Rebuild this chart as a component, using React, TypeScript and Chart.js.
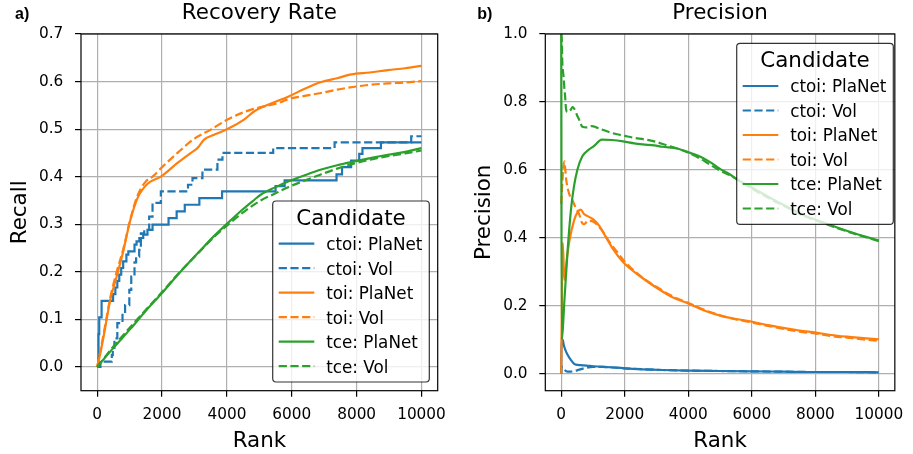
import React, { useEffect, useRef } from "react";
import { Chart, registerables } from "chart.js";

Chart.register(...registerables);

const FONT = "'DejaVu Sans', 'Noto Sans', sans-serif";
const BLUE = "#1f77b4";
const ORANGE = "#ff7f0e";
const GREEN = "#2ca02c";

// ---------- tick labels ----------
const rankTicks = [0, 2000, 4000, 6000, 8000, 10000];
const recallTicks = [0, 0.1, 0.2, 0.3, 0.4, 0.5, 0.6, 0.7];
const precisionTicks = [0, 0.2, 0.4, 0.6, 0.8, 1.0];

// ---------- series ----------
const seriesLabels = ["ctoi: PlaNet", "ctoi: Vol", "toi: PlaNet", "toi: Vol", "tce: PlaNet", "tce: Vol"];
const seriesColors = [BLUE, BLUE, ORANGE, ORANGE, GREEN, GREEN];
const seriesDashed = [false, true, false, true, false, true];

// Recall vs rank  [rank, recall]
const recallCtoiPlanet: [number, number][] = [
  [0, 0], [40, 0.069], [62, 0.104], [135, 0.139], [490, 0.153], [560, 0.167], [620, 0.181],
  [680, 0.194], [740, 0.208], [800, 0.222], [900, 0.236], [960, 0.243], [1150, 0.257],
  [1213, 0.264], [1300, 0.271], [1418, 0.278], [1550, 0.288], [1706, 0.299], [2200, 0.313],
  [2450, 0.327], [2700, 0.341], [3150, 0.355], [3850, 0.369], [5500, 0.38], [5780, 0.392],
  [7380, 0.405], [7550, 0.42], [7830, 0.434], [8080, 0.448], [8180, 0.46], [8750, 0.472],
  [10000, 0.472],
];
const recallCtoiVol: [number, number][] = [
  [0, 0], [100, 0.011], [450, 0.025], [480, 0.04], [530, 0.06], [620, 0.092], [780, 0.113],
  [860, 0.13], [990, 0.162], [1050, 0.19], [1150, 0.22], [1200, 0.232], [1294, 0.246],
  [1346, 0.281], [1450, 0.288], [1602, 0.316], [1706, 0.345], [1962, 0.369], [2800, 0.383],
  [2938, 0.397], [3245, 0.415], [3707, 0.436], [3862, 0.45], [5427, 0.46], [7320, 0.472],
  [9683, 0.485], [10000, 0.485],
];
const recallToiPlanet: [number, number][] = [
  [0, 0], [100, 0.03], [200, 0.065], [400, 0.14], [600, 0.19], [813, 0.246], [1000, 0.303],
  [1243, 0.355], [1551, 0.385], [1962, 0.40], [2476, 0.429], [2886, 0.45], [3091, 0.46],
  [3296, 0.478], [3600, 0.488], [4016, 0.50], [4528, 0.52], [4857, 0.538], [5400, 0.555],
  [5888, 0.568], [6400, 0.585], [6911, 0.599], [7400, 0.607], [7835, 0.615], [8400, 0.619],
  [8963, 0.624], [9500, 0.628], [10000, 0.633],
];
const recallToiVol: [number, number][] = [
  [0, 0], [100, 0.035], [200, 0.07], [400, 0.145], [600, 0.2], [813, 0.25], [1000, 0.305],
  [1243, 0.36], [1500, 0.39], [1706, 0.40], [2000, 0.42], [2476, 0.45], [3000, 0.48],
  [3502, 0.499], [4016, 0.52], [4500, 0.535], [4857, 0.543], [5679, 0.557], [5888, 0.563],
  [6400, 0.57], [6911, 0.576], [7400, 0.583], [7937, 0.589], [8400, 0.593], [8963, 0.596],
  [9500, 0.598], [10000, 0.601],
];
const recallTcePlanet: [number, number][] = [
  [0, 0], [500, 0.04], [1038, 0.081], [1500, 0.118], [1993, 0.155], [2500, 0.195],
  [3194, 0.246], [3600, 0.275], [4016, 0.302], [4500, 0.332], [4857, 0.352], [5042, 0.362],
  [5500, 0.378], [5888, 0.39], [6400, 0.403], [6911, 0.415], [7400, 0.424], [7937, 0.432],
  [8500, 0.44], [8963, 0.446], [9500, 0.452], [10000, 0.46],
];
const recallTceVol: [number, number][] = [
  [0, 0], [500, 0.043], [1038, 0.085], [1500, 0.12], [1993, 0.157], [2500, 0.196],
  [3194, 0.245], [3600, 0.273], [4016, 0.298], [4500, 0.325], [5042, 0.35], [5500, 0.365],
  [5888, 0.378], [6400, 0.392], [6911, 0.405], [7400, 0.417], [7937, 0.428], [8500, 0.437],
  [8963, 0.443], [9500, 0.449], [10000, 0.455],
];

// Precision vs rank  [rank, precision]
const precisionCtoiPlanet: [number, number][] = [
  [1, 0.0], [10, 0.1], [50, 0.1], [80, 0.085], [130, 0.07], [205, 0.055], [308, 0.04],
  [400, 0.03], [512, 0.026], [800, 0.024], [1000, 0.022], [1541, 0.019], [2000, 0.016],
  [3185, 0.011], [4000, 0.009], [5000, 0.008], [6000, 0.007], [7000, 0.006], [8000, 0.005],
  [9000, 0.005], [10000, 0.004],
];
const precisionCtoiVol: [number, number][] = [
  [1, 0.0], [10, 0.02], [50, 0.02], [100, 0.012], [200, 0.006], [300, 0.006], [500, 0.01],
  [718, 0.016], [1000, 0.02], [1300, 0.02], [1541, 0.019], [2000, 0.016], [3185, 0.011],
  [4000, 0.009], [5000, 0.008], [6000, 0.007], [7000, 0.006], [8000, 0.005], [9000, 0.005],
  [10000, 0.004],
];
const precisionToiPlanet: [number, number][] = [
  [1, 0.0], [10, 0.1], [50, 0.385], [100, 0.276], [180, 0.34], [256, 0.39], [410, 0.453],
  [512, 0.475], [615, 0.483], [720, 0.47], [850, 0.463], [1027, 0.453], [1200, 0.435],
  [1335, 0.414], [1644, 0.365], [1952, 0.328], [2569, 0.281], [3100, 0.247], [3500, 0.225],
  [4009, 0.206], [4500, 0.186], [5000, 0.171], [5500, 0.161], [6013, 0.153], [6500, 0.143],
  [7000, 0.135], [7500, 0.127], [8017, 0.121], [8500, 0.114], [9000, 0.109], [9500, 0.105],
  [10000, 0.101],
];
const precisionToiVol: [number, number][] = [
  [1, 0.5], [30, 0.55], [60, 0.6], [100, 0.625], [130, 0.6], [160, 0.57], [250, 0.53],
  [358, 0.51], [450, 0.49], [564, 0.47], [650, 0.445], [718, 0.44], [850, 0.45], [975, 0.449],
  [1180, 0.434], [1335, 0.415], [1500, 0.39], [1750, 0.36], [2000, 0.33], [2500, 0.287],
  [3100, 0.25], [3500, 0.228], [4009, 0.208], [4500, 0.188], [5000, 0.172], [5500, 0.16],
  [6013, 0.151], [6500, 0.141], [7000, 0.132], [7500, 0.124], [8017, 0.118], [8500, 0.111],
  [9000, 0.106], [9500, 0.101], [10000, 0.097],
];
const precisionTcePlanet: [number, number][] = [
  [1, 1.0], [15, 0.1], [50, 0.13], [102, 0.217], [200, 0.36], [308, 0.483], [400, 0.55],
  [512, 0.601], [666, 0.64], [850, 0.658], [1027, 0.67], [1283, 0.689], [1600, 0.688],
  [1952, 0.684], [2300, 0.678], [2569, 0.675], [2929, 0.672], [3185, 0.668], [3648, 0.663],
  [4058, 0.65], [4400, 0.638], [4700, 0.622], [5000, 0.603], [5300, 0.587], [5550, 0.571],
  [6000, 0.548], [6630, 0.515], [7142, 0.49], [7656, 0.466], [8170, 0.448], [8581, 0.434],
  [9198, 0.414], [10000, 0.392],
];
const precisionTceVol: [number, number][] = [
  [1, 1.0], [20, 0.98], [35, 0.92], [50, 0.896], [80, 0.87], [100, 0.84], [123, 0.817],
  [154, 0.778], [200, 0.77], [308, 0.778], [358, 0.785], [411, 0.78], [512, 0.758],
  [564, 0.748], [666, 0.727], [800, 0.725], [975, 0.729], [1100, 0.725], [1283, 0.719],
  [1550, 0.71], [1798, 0.704], [2000, 0.70], [2313, 0.694], [2600, 0.69], [2929, 0.684],
  [3300, 0.673], [3648, 0.663], [4058, 0.648], [4400, 0.632], [4675, 0.616], [5000, 0.598],
  [5397, 0.58], [6000, 0.545], [6630, 0.512], [7142, 0.488], [7656, 0.464], [8170, 0.446],
  [8581, 0.432], [9198, 0.413], [10000, 0.39],
];

const recallSeries = [recallCtoiPlanet, recallCtoiVol, recallToiPlanet, recallToiVol, recallTcePlanet, recallTceVol];
const recallStepped = [true, true, false, false, false, false];
const precisionSeries = [precisionCtoiPlanet, precisionCtoiVol, precisionToiPlanet, precisionToiVol, precisionTcePlanet, precisionTceVol];
const precisionStepped = [false, false, false, false, false, false];

function makeDatasets(series: [number, number][][], stepped: boolean[]) {
  return series.map((pts, i) => ({
    label: seriesLabels[i],
    data: pts.map(([x, y]) => ({ x, y })),
    borderColor: seriesColors[i],
    backgroundColor: seriesColors[i],
    borderWidth: 2.2,
    borderDash: seriesDashed[i] ? [8.2, 3.5] : [],
    pointRadius: 0,
    pointHoverRadius: 0,
    fill: false,
    stepped: stepped[i] ? ("before" as const) : false,
    cubicInterpolationMode: "monotone" as const,
    order: 6 - i,
  }));
}

const framePlugin = {
  id: "frame",
  afterDatasetsDraw(chart: any) {
    const { ctx, chartArea } = chart;
    ctx.save();
    ctx.strokeStyle = "#000";
    ctx.lineWidth = 1.2;
    ctx.strokeRect(chartArea.left, chartArea.top, chartArea.right - chartArea.left, chartArea.bottom - chartArea.top);
    ctx.restore();
  },
};

const legendPlugin = {
  id: "candidateLegend",
  afterDatasetsDraw(chart: any, _args: any, opts: any) {
    const { ctx } = chart;
    const L = opts.left;
    const T = opts.top;
    const W = 156.6;
    const H = 181;
    const r = 3.4;
    ctx.save();
    ctx.beginPath();
    ctx.moveTo(L + r, T);
    ctx.lineTo(L + W - r, T);
    ctx.arcTo(L + W, T, L + W, T + r, r);
    ctx.lineTo(L + W, T + H - r);
    ctx.arcTo(L + W, T + H, L + W - r, T + H, r);
    ctx.lineTo(L + r, T + H);
    ctx.arcTo(L, T + H, L, T + H - r, r);
    ctx.lineTo(L, T + r);
    ctx.arcTo(L, T, L + r, T, r);
    ctx.closePath();
    ctx.fillStyle = "rgba(255,255,255,0.8)";
    ctx.fill();
    ctx.strokeStyle = "rgba(0,0,0,0.8)";
    ctx.lineWidth = 1.2;
    ctx.stroke();

    ctx.fillStyle = "#000";
    ctx.textAlign = "center";
    ctx.textBaseline = "alphabetic";
    ctx.font = `21.4px ${FONT}`;
    ctx.fillText("Candidate", L + W / 2, T + 24);

    ctx.font = `16.8px ${FONT}`;
    ctx.textAlign = "left";
    const ds = chart.data.datasets;
    for (let i = 0; i < ds.length; i++) {
      const cy = T + 42.7 + i * 24.5;
      ctx.beginPath();
      ctx.strokeStyle = ds[i].borderColor;
      ctx.lineWidth = 2.2;
      ctx.setLineDash(ds[i].borderDash || []);
      ctx.moveTo(L + 6, cy);
      ctx.lineTo(L + 41.6, cy);
      ctx.stroke();
      ctx.setLineDash([]);
      ctx.fillStyle = "#000";
      ctx.fillText(ds[i].label, L + 53.5, cy + 6.3);
    }
    ctx.restore();
  },
};

const panelLabelPlugin = {
  id: "panelLabel",
  afterDraw(chart: any, _args: any, opts: any) {
    const { ctx } = chart;
    ctx.save();
    ctx.fillStyle = "#000";
    ctx.font = `bold 16px 'Liberation Sans', Arial, sans-serif`;
    ctx.textAlign = "left";
    ctx.textBaseline = "alphabetic";
    ctx.fillText(opts.text, opts.x, opts.y);
    ctx.restore();
  },
};

function makeConfig(opts: {
  datasets: any[];
  title: string;
  yTitle: string;
  yMin: number;
  yMax: number;
  yTicks: number[];
  yWidth: number;
  yTitlePad: number;
  padRight: number;
  legendLeft: number;
  legendTop: number;
  panel: string;
  panelX: number;
}): any {
  return {
    type: "line",
    data: { datasets: opts.datasets },
    plugins: [framePlugin, legendPlugin, panelLabelPlugin],
    options: {
      responsive: false,
      animation: false,
      devicePixelRatio: 1,
      events: [],
      layout: { padding: { left: 0, right: opts.padRight, top: 0, bottom: 0 } },
      plugins: {
        legend: { display: false },
        tooltip: { enabled: false },
        title: {
          display: true,
          text: opts.title,
          fullSize: false,
          color: "#000",
          font: { family: FONT, size: 21.4, weight: "normal" },
          padding: { top: 0.45, bottom: 7.85 },
        },
        candidateLegend: { left: opts.legendLeft, top: opts.legendTop },
        panelLabel: { text: opts.panel, x: opts.panelX, y: 19 },
      },
      scales: {
        x: {
          type: "linear",
          min: -500,
          max: 10500,
          afterBuildTicks: (s: any) => {
            s.ticks = rankTicks.map((v) => ({ value: v }));
          },
          afterFit: (s: any) => {
            s.height = 63.3;
          },
          ticks: {
            callback: (v: any) => String(v),
            color: "#000",
            font: { family: FONT, size: 15.3 },
            padding: 8.9,
            maxRotation: 0,
            autoSkip: false,
          },
          grid: { color: "#b0b0b0", lineWidth: 1.2, tickColor: "#000", tickLength: 6, tickWidth: 1.2 },
          border: { display: false },
          title: {
            display: true,
            text: "Rank",
            color: "#000",
            font: { family: FONT, size: 21.4 },
            padding: { top: 0, bottom: 0 },
          },
        },
        y: {
          type: "linear",
          min: opts.yMin,
          max: opts.yMax,
          afterBuildTicks: (s: any) => {
            s.ticks = opts.yTicks.map((v) => ({ value: v }));
          },
          afterFit: (s: any) => {
            s.width = opts.yWidth;
          },
          ticks: {
            callback: (v: any) => Number(v).toFixed(1),
            color: "#000",
            font: { family: FONT, size: 15.3 },
            padding: 11.7,
            autoSkip: false,
          },
          grid: { color: "#b0b0b0", lineWidth: 1.2, tickColor: "#000", tickLength: 6, tickWidth: 1.2 },
          border: { display: false },
          title: {
            display: true,
            text: opts.yTitle,
            color: "#000",
            font: { family: FONT, size: 21.4 },
            padding: { top: opts.yTitlePad, bottom: 0 },
          },
        },
      },
    },
  };
}

export default function App() {
  const leftRef = useRef<HTMLCanvasElement | null>(null);
  const rightRef = useRef<HTMLCanvasElement | null>(null);

  useEffect(() => {
    if (!leftRef.current || !rightRef.current) return;
    const left = new Chart(
      leftRef.current,
      makeConfig({
        datasets: makeDatasets(recallSeries, recallStepped),
        title: "Recovery Rate",
        yTitle: "Recall",
        yMin: -0.05,
        yMax: 0.7,
        yTicks: recallTicks,
        yWidth: 81,
        yTitlePad: 8,
        padRight: 22.3,
        legendLeft: 272.7,
        legendTop: 201,
        panel: "a)",
        panelX: 15,
      })
    );
    const right = new Chart(
      rightRef.current,
      makeConfig({
        datasets: makeDatasets(precisionSeries, precisionStepped),
        title: "Precision",
        yTitle: "Precision",
        yMin: -0.05,
        yMax: 1.0,
        yTicks: precisionTicks,
        yWidth: 85.3,
        yTitlePad: 11.5,
        padRight: 10.7,
        legendLeft: 276.7,
        legendTop: 43.3,
        panel: "b)",
        panelX: 17.3,
      })
    );
    return () => {
      left.destroy();
      right.destroy();
    };
  }, []);

  return (
    <div style={{ position: "absolute", left: 0, top: 0, width: 913, height: 454, background: "#fff" }}>
      <canvas ref={leftRef} width={460} height={454} style={{ position: "absolute", left: 0, top: 0 }} />
      <canvas ref={rightRef} width={453} height={454} style={{ position: "absolute", left: 460, top: 0 }} />
    </div>
  );
}
